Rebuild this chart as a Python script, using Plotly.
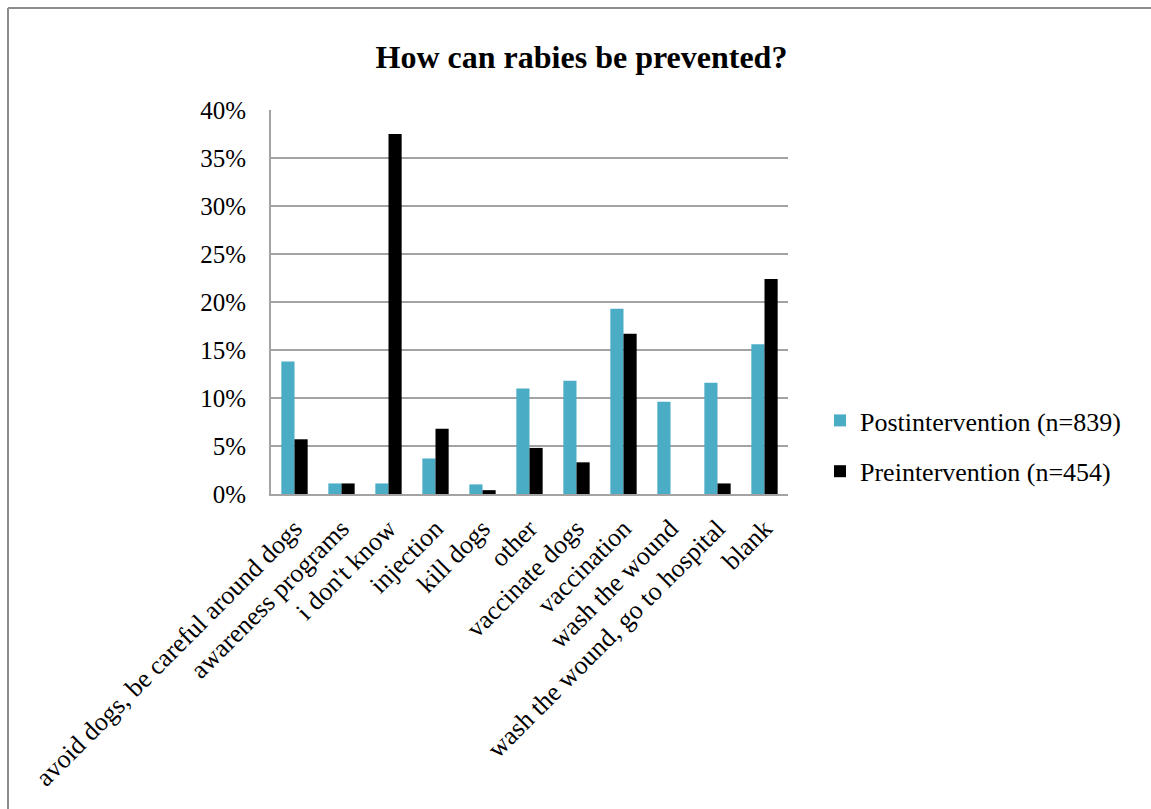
import plotly.graph_objects as go

categories = [
    "avoid dogs, be careful around dogs",
    "awareness programs",
    "i don't know",
    "injection",
    "kill dogs",
    "other",
    "vaccinate dogs",
    "vaccination",
    "wash the wound",
    "wash the wound, go to hospital",
    "blank",
]
post_values = [13.8, 1.1, 1.1, 3.7, 1.0, 11.0, 11.8, 19.3, 9.6, 11.6, 15.6]
pre_values = [5.7, 1.1, 37.5, 6.8, 0.4, 4.8, 3.3, 16.7, 0.0, 1.1, 22.4]
series_names = ["Postintervention (n=839)", "Preintervention (n=454)"]
y_ticks = [0, 5, 10, 15, 20, 25, 30, 35, 40]
y_tick_text = [f"{v}%" for v in y_ticks]

W, H = 1151, 809
ML, MR, MT, MB = 271, 363, 110, 315
PW, PH = W - ML - MR, H - MT - MB

FONT = "Liberation Serif, Times New Roman, serif"
GRID = "#a3a3a3"

fig = go.Figure()
fig.add_trace(go.Bar(x=categories, y=post_values, name=series_names[0],
                     marker=dict(color="#4bacc6", line=dict(width=0)),
                     legendgroup="a"))
fig.add_trace(go.Bar(x=categories, y=pre_values, name=series_names[1],
                     marker=dict(color="#000000", line=dict(width=0)),
                     legendgroup="b"))


def px_x(p):
    return (p - ML) / PW


def px_y(p):
    return (H - MB - p) / PH


# outer chart frame (top and left edges)
frame = dict(color="#8c8c8c", width=2)
fig.add_shape(type="line", xref="paper", yref="paper",
              x0=px_x(8), x1=px_x(W + 5), y0=px_y(8), y1=px_y(8), line=frame)
fig.add_shape(type="line", xref="paper", yref="paper",
              x0=px_x(8), x1=px_x(8), y0=px_y(8), y1=px_y(H + 5), line=frame)

fig.update_layout(
    width=W, height=H,
    margin=dict(l=ML, r=MR, t=MT, b=MB, autoexpand=False),
    paper_bgcolor="white", plot_bgcolor="white",
    barmode="group", bargap=0.44, bargroupgap=0,
    font=dict(family=FONT, color="black", size=25),
    title=dict(text="<b>How can rabies be prevented?</b>",
               font=dict(family=FONT, size=32, color="black"),
               x=(378 + 785) / 2 / W, xanchor="center",
               y=1 - 57 / H, yanchor="middle"),
    legend=dict(x=px_x(820), xanchor="left", y=px_y(446), yanchor="middle",
                font=dict(family=FONT, size=26, color="black"),
                tracegroupgap=14, bgcolor="rgba(0,0,0,0)"),
    showlegend=True,
)
fig.update_xaxes(
    type="category", tickangle=-45, showgrid=False,
    showline=True, linecolor=GRID, linewidth=2,
    ticks="", tickfont=dict(family=FONT, size=26), ticklabelstandoff=7,
)
fig.update_yaxes(
    range=[0, 40], tickmode="array", tickvals=y_ticks, ticktext=y_tick_text,
    showgrid=True, gridcolor=GRID, gridwidth=2,
    showline=True, linecolor=GRID, linewidth=2,
    zeroline=False, ticks="", tickfont=dict(family=FONT, size=25),
    ticklabelstandoff=18,
)

fig.write_html("out.html")
